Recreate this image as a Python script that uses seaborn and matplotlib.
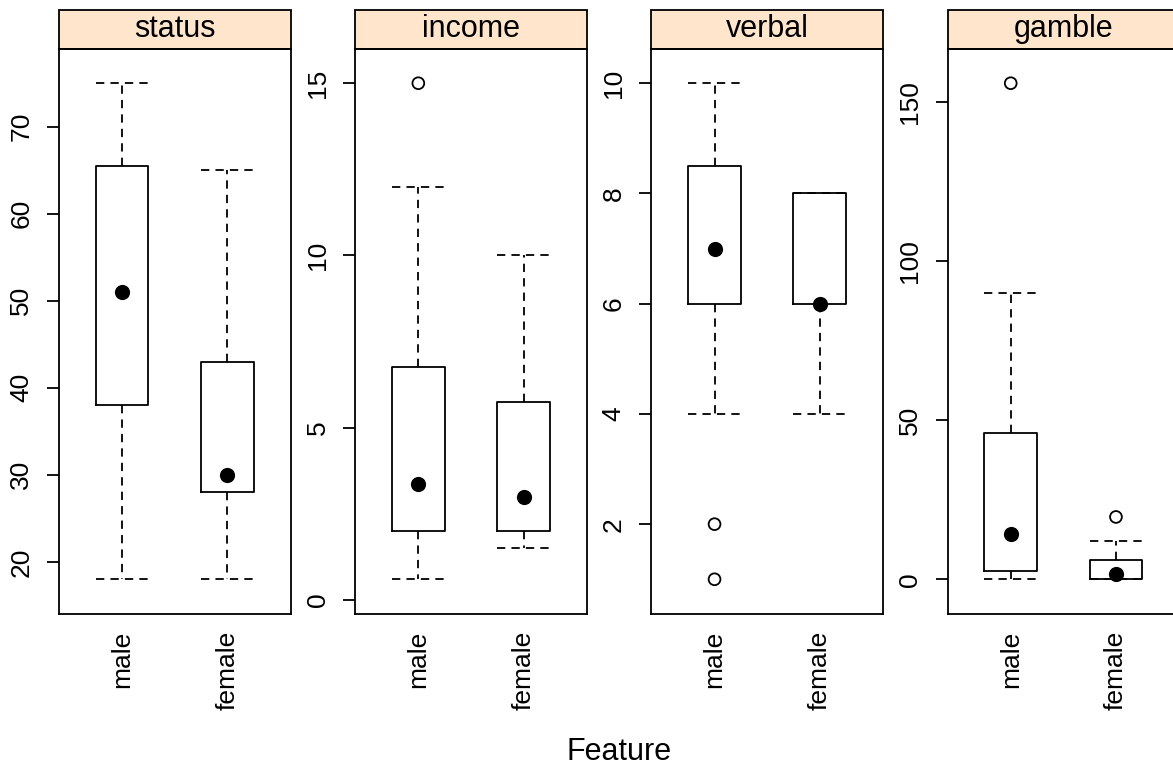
import numpy as np
import pandas as pd
import seaborn as sns
import matplotlib.pyplot as plt
from matplotlib.patches import Rectangle

features = ["status", "income", "verbal", "gamble"]
sexes = ["male", "female"]

# box summaries per feature, [male, female]
whislo = {"status": [18, 18], "income": [0.6, 1.5], "verbal": [4, 4], "gamble": [0, 0]}
q1 = {"status": [38, 28], "income": [2.0, 2.0], "verbal": [6, 6], "gamble": [2.6, 0.1]}
med = {"status": [51, 30], "income": [3.375, 3.0], "verbal": [7, 6], "gamble": [14.25, 1.7]}
q3 = {"status": [65.5, 43], "income": [6.75, 5.75], "verbal": [8.5, 8], "gamble": [46.0, 6.0]}
whishi = {"status": [75, 65], "income": [12, 10], "verbal": [10, 8], "gamble": [90, 12]}
outliers = {"status": [[], []], "income": [[15], []], "verbal": [[2, 1], []], "gamble": [[156], [19.6]]}
yticks = {"status": [20, 30, 40, 50, 60, 70], "income": [0, 5, 10, 15],
          "verbal": [2, 4, 6, 8, 10], "gamble": [0, 50, 100, 150]}

sns.set_theme(style="white")
plt.rcParams["font.family"] = ["Liberation Sans", "DejaVu Sans"]

W, H = 1173, 768
fig = plt.figure(figsize=(W / 100, H / 100), dpi=100)
dash = (0, (4.6, 3.4))
lw = 1.3
strip_h = 38.5 / (614 - 48.5)

for i, feat in enumerate(features):
    left = 59 + i * 296.2
    ax = fig.add_axes([left / W, (H - 614) / H, 231.5 / W, (614 - 48.5) / H])
    pos = [1, 2]
    stats = []
    for j in range(2):
        stats.append(dict(whislo=whislo[feat][j], q1=q1[feat][j], med=med[feat][j],
                          q3=q3[feat][j], whishi=whishi[feat][j], fliers=[]))
    ax.bxp(stats, positions=pos, widths=0.5, capwidths=0.5, showfliers=False,
           boxprops=dict(color="black", lw=lw),
           whiskerprops=dict(color="black", lw=lw, linestyle=dash),
           capprops=dict(color="black", lw=lw, linestyle=dash),
           medianprops=dict(lw=0))

    # median dots
    dmed = pd.DataFrame({"x": pos, "y": med[feat]})
    sns.scatterplot(data=dmed, x="x", y="y", ax=ax, color="black", s=120,
                    edgecolor="black", linewidth=0, zorder=3)
    # outliers
    ox, oy = [], []
    for j in range(2):
        for v in outliers[feat][j]:
            ox.append(pos[j])
            oy.append(v)
    if ox:
        dout = pd.DataFrame({"x": ox, "y": oy})
        sns.scatterplot(data=dout, x="x", y="y", ax=ax, facecolor="none",
                        edgecolor="black", s=72, linewidth=lw, zorder=3)

    allv = whislo[feat] + whishi[feat] + sum(outliers[feat], [])
    lo, hi = min(allv), max(allv)
    pad = 0.07 * (hi - lo)
    ax.set_ylim(lo - pad, hi + pad)
    ax.set_xlim(0.4, 2.6)
    ax.set_yticks(yticks[feat])
    ax.set_yticklabels([str(t) for t in yticks[feat]])
    ax.set_xticks(pos)
    ax.set_xticklabels(sexes)
    ax.set_xlabel("")
    ax.set_ylabel("")
    ax.tick_params(axis="y", left=True, right=False, length=8.5, width=lw, direction="out",
                   labelsize=19, pad=10, colors="black")
    for lab in ax.get_yticklabels():
        lab.set_rotation(90)
        lab.set_va("center")
    ax.tick_params(axis="x", bottom=False, length=0, labelsize=19, pad=12,
                   labelrotation=90, colors="black")
    for sp in ax.spines.values():
        sp.set_visible(True)
        sp.set_color("black")
        sp.set_linewidth(lw)

    ax.add_patch(Rectangle((0, 1), 1, strip_h, transform=ax.transAxes, clip_on=False,
                           facecolor="#FFE5CC", edgecolor="black", lw=lw))
    ax.text(0.5, 1 + strip_h / 2, feat, transform=ax.transAxes, ha="center", va="center",
            fontsize=22, color="black")

fig.text(619 / W, 1 - 752 / H, "Feature", ha="center", va="center", fontsize=22, color="black")

fig.savefig("out.png", dpi=100)
